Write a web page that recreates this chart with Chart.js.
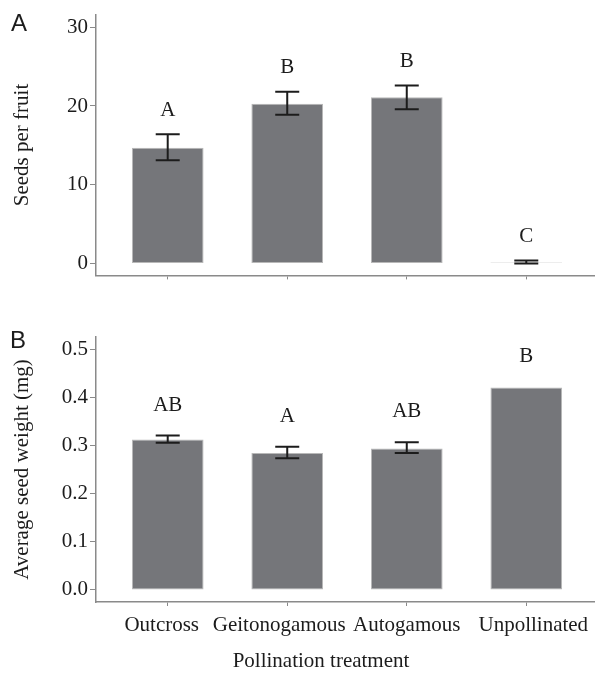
<!DOCTYPE html>
<html>
<head>
<meta charset="utf-8">
<script src="https://cdn.jsdelivr.net/npm/chart.js@4.4.1/dist/chart.umd.min.js"></script>
<style>
html, body { margin: 0; padding: 0; background: #fff; overflow: hidden; }
#wrap { position: relative; width: 595px; height: 680px; overflow: hidden; }
canvas { position: absolute; left: 0; }
</style>
</head>
<body>
<div id="wrap">
  <canvas id="seedsChart" width="600" height="290" style="top:0"></canvas>
  <canvas id="weightChart" width="600" height="390" style="top:290px"></canvas>
</div>
<script>
// data
const treatments = ['Outcross', 'Geitonogamous', 'Autogamous', 'Unpollinated'];

const seedsMean = [14.7, 20.3, 21.1, 0.15];
const seedsLow = [13.1, 18.9, 19.6, 0.0];
const seedsHigh = [16.4, 21.8, 22.6, 0.4];
const seedsGroups = ['A', 'B', 'B', 'C'];
const seedsTicks = [0, 10, 20, 30];

const weightMean = [0.313, 0.285, 0.294, 0.421];
const weightLow = [0.306, 0.274, 0.285, null];
const weightHigh = [0.321, 0.298, 0.307, null];
const weightGroups = ['AB', 'A', 'AB', 'B'];
const weightTicks = [0, 0.1, 0.2, 0.3, 0.4, 0.5];

const SERIF = '"Liberation Serif", "Times New Roman", serif';
const SANS = '"Liberation Sans", Arial, sans-serif';
const AXIS_GREY = '#8a8a8a';
const INK = '#1c1c1c';

// error bars, significance letters, category labels, panel letter, x title
const annotations = {
    id: 'annotations',
    afterDatasetsDraw(chart, args, opts) {
        const { ctx } = chart;
        const x = chart.scales.x, y = chart.scales.y;
        ctx.save();
        ctx.strokeStyle = INK;
        ctx.lineWidth = 2;
        opts.low.forEach((lo, i) => {
            if (lo == null) return;
            const cx = x.getPixelForValue(i);
            const y1 = y.getPixelForValue(lo);
            const y2 = y.getPixelForValue(opts.high[i]);
            ctx.beginPath();
            ctx.moveTo(cx, y1); ctx.lineTo(cx, y2);
            ctx.moveTo(cx - 12, y1); ctx.lineTo(cx + 12, y1);
            ctx.moveTo(cx - 12, y2); ctx.lineTo(cx + 12, y2);
            ctx.stroke();
        });

        ctx.fillStyle = INK;
        ctx.font = '21px ' + SERIF;
        ctx.textAlign = 'center';
        ctx.textBaseline = 'alphabetic';
        opts.groups.forEach((g, i) => {
            const top = opts.high[i] != null ? opts.high[i] : opts.mean[i];
            ctx.fillText(g, x.getPixelForValue(i), y.getPixelForValue(top) - opts.gap);
        });

        // category labels, nudged apart as in the original figure
        if (opts.showLabels) {
            const nudge = [-6, -8, 0, 7];
            treatments.forEach((t, i) => {
                ctx.fillText(t, x.getPixelForValue(i) + nudge[i], y.bottom + 28.5);
            });
            ctx.fillText('Pollination treatment', 321, y.bottom + 65);
        }

        ctx.font = '24px ' + SANS;
        ctx.textAlign = 'left';
        ctx.fillText(opts.panel, opts.panelX, opts.panelY);
        ctx.restore();
    }
};

function makeChart(id, cfg) {
    const ctx = document.getElementById(id).getContext('2d');
    return new Chart(ctx, {
        type: 'bar',
        data: {
            datasets: [{
                data: cfg.mean.map((v, i) => ({ x: i, y: v })),
                backgroundColor: '#75767a',
                borderColor: '#b8b8b8',
                borderWidth: 1,
                borderSkipped: false,
                barPercentage: 0.6,
                categoryPercentage: 1.0,
            }],
        },
        options: {
            responsive: false,
            animation: false,
            layout: { padding: { left: 0, right: 2, top: cfg.padTop, bottom: 0 } },
            plugins: {
                legend: { display: false },
                tooltip: { enabled: false },
                annotations: {
                    low: cfg.low, high: cfg.high, mean: cfg.mean, groups: cfg.groups,
                    gap: cfg.gap, panel: cfg.panel, panelX: cfg.panelX, panelY: cfg.panelY,
                    showLabels: cfg.showLabels,
                },
            },
            scales: {
                x: {
                    type: 'linear',
                    min: -0.6,
                    max: 3.6,
                    offset: false,
                    afterBuildTicks: (s) => { s.ticks = treatments.map((t, i) => ({ value: i })); },
                    afterFit: (s) => { s.height = cfg.xHeight; },
                    border: { display: true, color: AXIS_GREY, width: 1.5 },
                    grid: { display: true, offset: false, drawOnChartArea: false, drawTicks: true, tickLength: 4, color: AXIS_GREY },
                    ticks: {
                        display: true,
                        autoSkip: false,
                        maxRotation: 0,
                        font: { family: SERIF, size: 21 },
                        callback: () => '',
                    },
                },
                y: {
                    min: cfg.yMin,
                    max: cfg.yMax,
                    afterBuildTicks: (s) => { s.ticks = cfg.ticks.map(v => ({ value: v })); },
                    afterFit: (s) => { s.width = 96; },
                    border: { display: true, color: AXIS_GREY, width: 1.5 },
                    grid: { display: true, drawOnChartArea: false, drawTicks: true, tickLength: 6, color: AXIS_GREY },
                    ticks: {
                        padding: 2,
                        color: INK,
                        font: { family: SERIF, size: 21 },
                        callback: cfg.fmt,
                    },
                    title: {
                        display: true,
                        text: cfg.yTitle,
                        color: INK,
                        font: { family: SERIF, size: 21 },
                        padding: { top: 10, bottom: 0 },
                    },
                },
            },
        },
        plugins: [annotations],
    });
}

makeChart('seedsChart', {
    mean: seedsMean, low: seedsLow, high: seedsHigh, groups: seedsGroups, ticks: seedsTicks,
    yMin: -1.5, yMax: 31.6, padTop: 13, xHeight: 12, gap: 18.5,
    fmt: (v) => String(v), yTitle: 'Seeds per fruit', showLabels: false,
    panel: 'A', panelX: 11, panelY: 31,
});

makeChart('weightChart', {
    mean: weightMean, low: weightLow, high: weightHigh, groups: weightGroups, ticks: weightTicks,
    yMin: -0.025, yMax: 0.526, padTop: 47, xHeight: 78, gap: 25,
    fmt: (v) => v.toFixed(1), yTitle: 'Average seed weight (mg)', showLabels: true,
    panel: 'B', panelX: 10, panelY: 58,
});
</script>
</body>
</html>
